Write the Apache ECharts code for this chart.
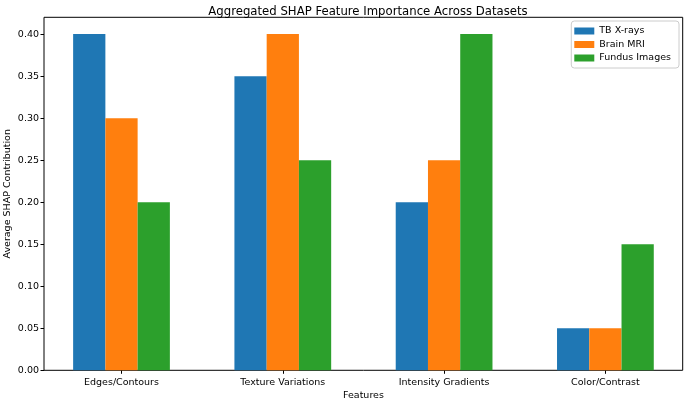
<!DOCTYPE html>
<html>
<head>
<meta charset="utf-8">
<script src="https://cdn.jsdelivr.net/npm/echarts@6/dist/echarts.min.js"></script>
<style>
html,body{margin:0;padding:0;background:#fff;}
#chart{width:685px;height:400px;}
</style>
</head>
<body>
<div id="chart"></div>
<script>
const categories = ['Edges/Contours', 'Texture Variations', 'Intensity Gradients', 'Color/Contrast'];
const tbXrays = [0.40, 0.35, 0.20, 0.05];
const brainMRI = [0.30, 0.40, 0.25, 0.05];
const fundusImages = [0.20, 0.25, 0.40, 0.15];
const yTicks = [0, 0.05, 0.10, 0.15, 0.20, 0.25, 0.30, 0.35, 0.40];

const FONT = 'DejaVu Sans';
const chart = echarts.init(document.getElementById('chart'), null, {renderer: 'canvas'});
const barW = 32.25;
const mkSeries = (name, data, color) => ({
  name, type: 'bar', data, xAxisIndex: 1, yAxisIndex: 1,
  barWidth: barW, barGap: '0%', itemStyle: {color},
  emphasis: {disabled: true}, animation: false
});
chart.setOption({
  animation: false,
  textStyle: {fontFamily: FONT},
  title: {
    text: 'Aggregated SHAP Feature Importance Across Datasets',
    left: 363, textAlign: 'center', top: 1,
    textStyle: {fontFamily: FONT, fontSize: 11.7, fontWeight: 'normal', color: '#000'}
  },
  legend: {
    orient: 'vertical', right: 6, top: 21,
    itemWidth: 20, itemHeight: 7, itemGap: 3.5,
    icon: 'rect',
    backgroundColor: 'rgba(255,255,255,0.8)',
    borderColor: '#cccccc', borderWidth: 1, borderRadius: 3,
    padding: [5, 8, 5, 3],
    textStyle: {fontFamily: FONT, fontSize: 9.5, color: '#000'},
    data: ['TB X-rays', 'Brain MRI', 'Fundus Images']
  },
  grid: [
    {left: 44, right: 2.3, top: 17.3, bottom: 29.7, show: true, borderColor: '#000', borderWidth: 1,
     backgroundColor: 'transparent', outerBoundsMode: 'none'},
    {left: 40.85, right: -1.05, top: 17.3, bottom: 29.7, outerBoundsMode: 'none'}
  ],
  xAxis: [
    {type: 'value', gridIndex: 0, min: 0, max: 1, show: false},
    {type: 'category', gridIndex: 1, data: categories,
     axisLine: {show: false},
     axisTick: {show: true, alignWithLabel: true, length: 3.5, lineStyle: {color: '#000'}},
     axisLabel: {fontFamily: FONT, fontSize: 9.5, color: '#000', margin: 7},
     splitLine: {show: false},
     name: 'Features', nameLocation: 'middle', nameGap: 20, nameMoveOverlap: false,
     nameTextStyle: {fontFamily: FONT, fontSize: 9.5, color: '#000'}}
  ],
  yAxis: [
    {type: 'value', gridIndex: 0, min: 0, max: 0.42,
     axisLine: {show: false},
     axisTick: {show: true, length: 3.5, lineStyle: {color: '#000'}, customValues: yTicks},
     axisLabel: {fontFamily: FONT, fontSize: 9.5, color: '#000', margin: 5,
       customValues: yTicks, formatter: v => v.toFixed(2)},
     splitLine: {show: false},
     name: 'Average SHAP Contribution', nameLocation: 'middle', nameGap: 31, nameRotate: 90,
     nameMoveOverlap: false,
     nameTextStyle: {fontFamily: FONT, fontSize: 9.5, color: '#000'}},
    {type: 'value', gridIndex: 1, min: 0, max: 0.42, show: false, splitLine: {show: false}}
  ],
  series: [
    mkSeries('TB X-rays', tbXrays, '#1f77b4'),
    mkSeries('Brain MRI', brainMRI, '#ff7f0e'),
    mkSeries('Fundus Images', fundusImages, '#2ca02c')
  ]
});
</script>
</body>
</html>
